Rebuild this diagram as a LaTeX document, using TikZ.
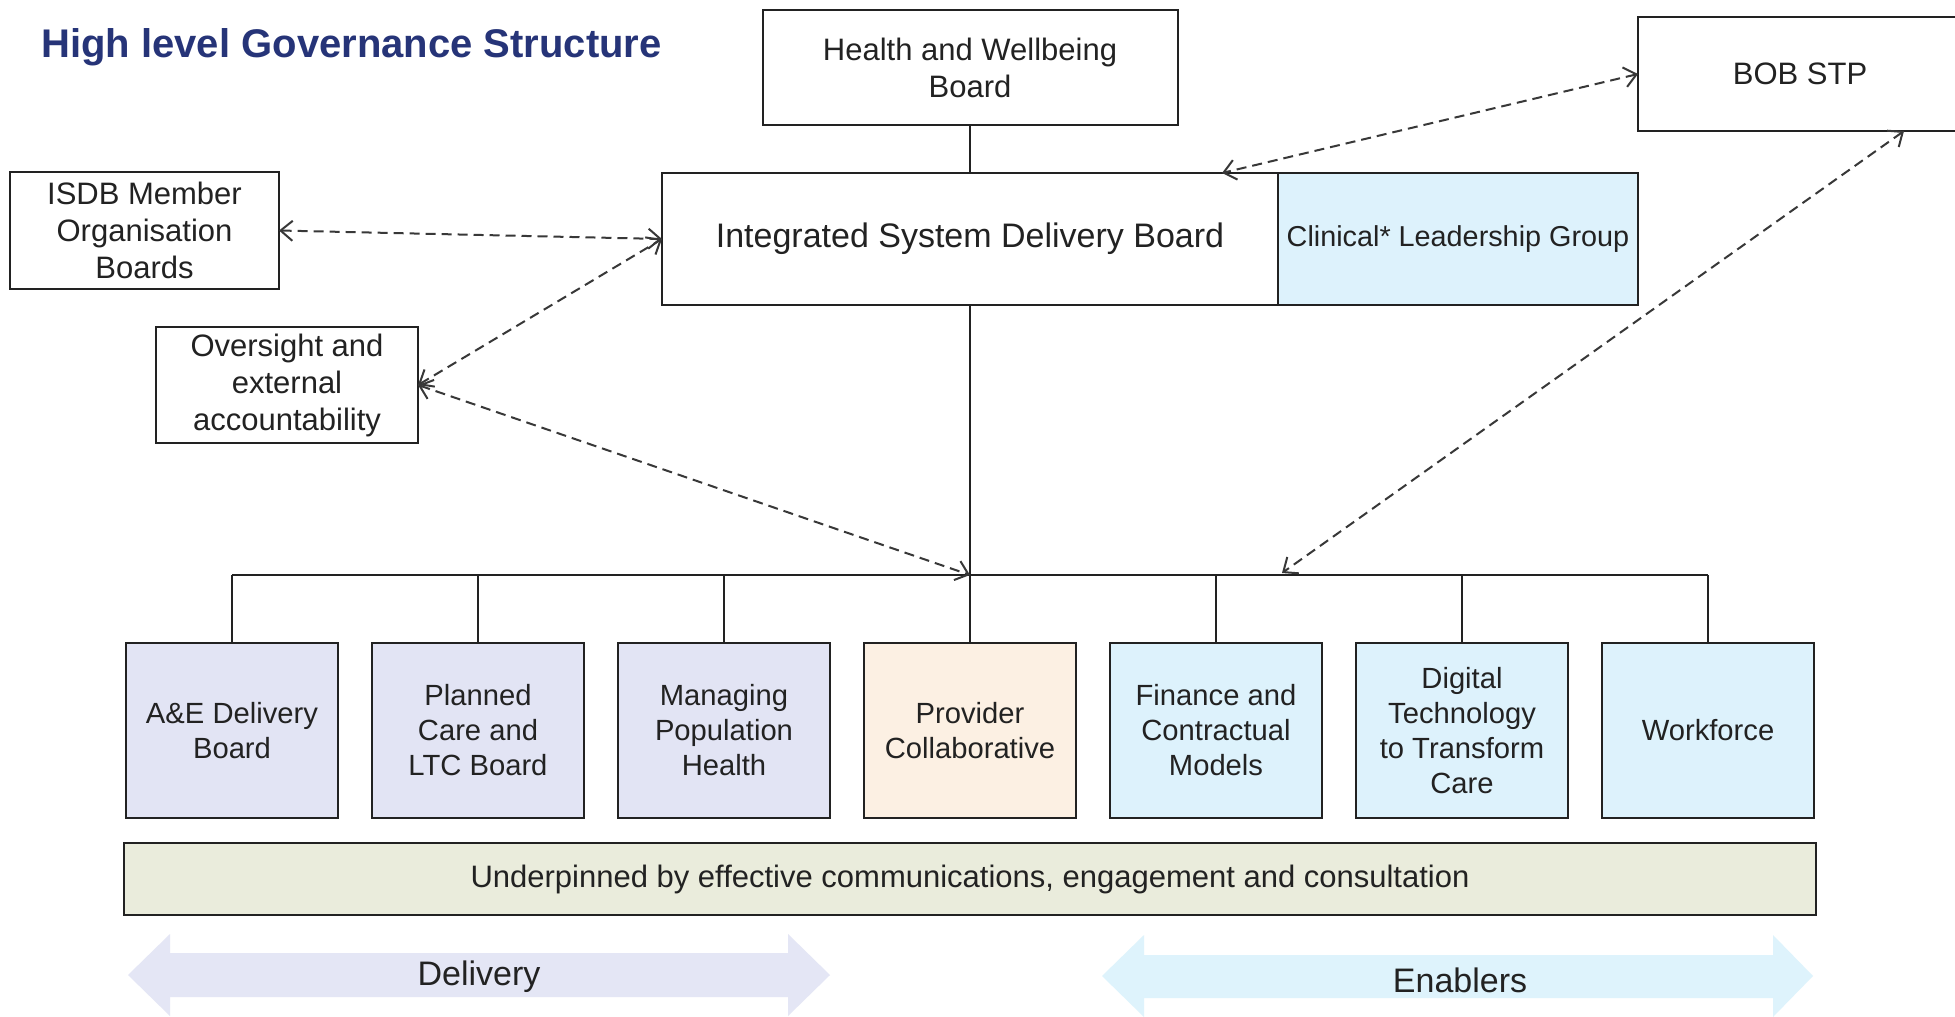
\documentclass[tikz,border=0pt]{standalone}
\usepackage{fontspec}
\setmainfont{Liberation Sans}
\usepackage{tikz}
\usetikzlibrary{arrows.meta,positioning}
\definecolor{titleblue}{RGB}{38,52,120}
\definecolor{inkgray}{RGB}{34,34,34}
\definecolor{lav}{RGB}{226,228,244}
\definecolor{peach}{RGB}{252,240,227}
\definecolor{skyfill}{RGB}{221,242,252}
\definecolor{olivefill}{RGB}{234,236,220}
\definecolor{lavband}{RGB}{228,230,245}
\definecolor{skyband}{RGB}{222,243,252}

\begin{document}
\begin{tikzpicture}[x=0.5pt,y=0.5pt,yscale=-1,
  box/.style={draw=inkgray,line width=1pt,outer sep=0pt,align=center,inner sep=1pt,text=inkgray,font=\fontsize{15.5}{18.5}\selectfont},
  subbox/.style={box,minimum width=106pt,minimum height=87.5pt,font=\fontsize{14.6}{17.5}\selectfont},
  wire/.style={draw=inkgray,line width=1pt},
  link/.style={draw=black!78,line width=1pt,dash pattern=on 5pt off 3pt,{Straight Barb[length=6pt,width=10pt]}-{Straight Barb[length=6pt,width=10pt]}},
  bandtext/.style={text=inkgray,font=\fontsize{17}{20}\selectfont}]
%set the page to the size of the reference
\useasboundingbox (0,0) rectangle (1955,1017);
\fill[white] (0,0) rectangle (1955,1017);
\clip (0,0) rectangle (1955,1017);

% Title
\node[anchor=west,inner sep=0pt,text=titleblue,font=\bfseries\fontsize{20}{24}\selectfont] (title) at (41,47) {High level Governance Structure};

% Top boxes
\node[box,minimum width=207.5pt,minimum height=57.5pt] (hwb) at (970,67.5) {Health and Wellbeing\\Board};
\node[box,minimum width=308pt,minimum height=66pt,font=\fontsize{17}{20}\selectfont] (board) at (970,239) {Integrated System Delivery Board};
\node[box,right=0pt of board,fill=skyfill,minimum width=180pt,minimum height=66pt,font=\fontsize{14.4}{17}\selectfont] (clg) {Clinical* Leadership Group};
\node[box,minimum width=162pt,minimum height=57pt] (bob) at (1800,74) {BOB STP};
\node[box,minimum width=134.5pt,minimum height=58.5pt] (isdbm) at (144.5,230.5) {ISDB Member\\Organisation\\Boards};
\node[box,minimum width=131pt,minimum height=58pt] (ovs) at (287,385) {Oversight and\\external\\accountability};

% Workstream boxes
\foreach \txt/\col [count=\i from 0] in {{A\&E Delivery\\Board}/lav,{Planned\\Care and\\LTC Board}/lav,{Managing\\Population\\Health}/lav,{Provider\\Collaborative}/peach,{Finance and\\Contractual\\Models}/skyfill,{Digital\\Technology\\to Transform\\Care}/skyfill,{Workforce}/skyfill}
  \node[subbox,fill=\col] (b\i) at ({232+246*\i},730.5) {\txt};

\node[box,below=12.5pt of b3,fill=olivefill,minimum width=846pt,minimum height=36pt,font=\fontsize{15.5}{18.5}\selectfont] (base) {Underpinned by effective communications, engagement and consultation};

% Tree lines
\coordinate (hub) at (970,575);
\draw[wire] (hwb.south) -- (board.north);
\draw[wire] (board.south) -- (hub);
\draw[wire] (b0.north |- hub) -- (b6.north |- hub);
\foreach \i in {0,...,6}
  \draw[wire] (b\i.north) -- (b\i.north |- hub);

% Dashed links
\coordinate (boardtop) at (1222,173);
\coordinate (bobfoot) at (1904,131);
\coordinate (busright) at (1282,573);
\draw[link] (isdbm.east) -- (board.west);
\draw[link] (ovs.east) -- (board.west);
\draw[link] (ovs.east) -- (hub);
\draw[link] (bob.west) -- (boardtop);
\draw[link] (bobfoot) -- (busright);

% Delivery / Enablers bands
\fill[lavband] (128,975) -- (170,934) -- (170,953) -- (788,953) -- (788,934) -- (830,975) -- (788,1016) -- (788,997) -- (170,997) -- (170,1016) -- cycle;
\fill[skyband] (1102,976) -- (1144,935) -- (1144,955) -- (1773,955) -- (1773,935) -- (1813,976) -- (1773,1017) -- (1773,998) -- (1144,998) -- (1144,1017) -- cycle;
\node[bandtext] (deliv) at (479,977) {Delivery};
\node[bandtext] (enab) at (1460,980) {Enablers};

\end{tikzpicture}
\end{document}
